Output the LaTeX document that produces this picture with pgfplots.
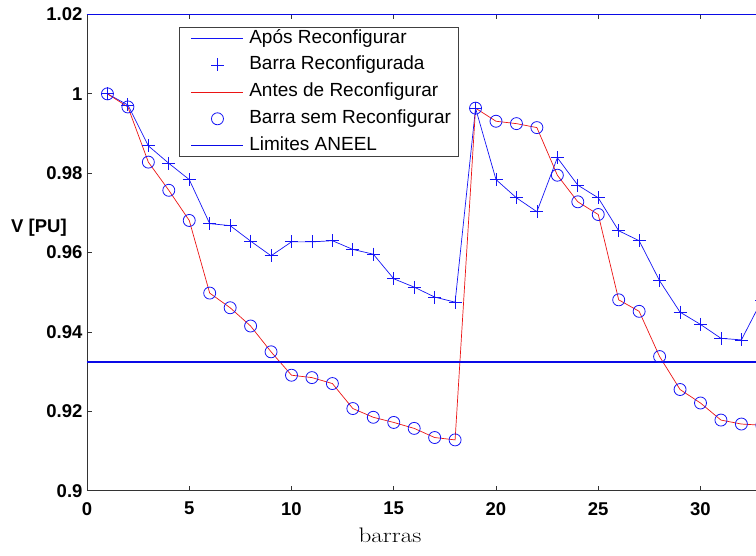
\documentclass[border=0pt]{standalone}
\usepackage{fontspec}
\setsansfont{Liberation Sans}
\usepackage{graphicx}
\usepackage{pgfplots}
\pgfplotsset{compat=1.18}

\definecolor{mblue}{RGB}{20,20,245}
\definecolor{mred}{RGB}{235,20,20}
\definecolor{limblue}{RGB}{10,10,230}

\newcommand{\lblfont}{\fontsize{18.5}{20}\selectfont\sffamily}
\newcommand{\legfont}{\fontsize{19}{21}\selectfont\sffamily}

\pgfplotsset{
  lineleg/.style={legend image code/.code={\path (0pt,0pt); \draw[##1] (7pt,0pt) -- (59pt,0pt);}},
  markleg/.style={legend image code/.code={\path (0pt,0pt) (59pt,0pt); \draw[##1] plot coordinates {(33pt,0pt)};}},
}

\begin{document}
\begin{tikzpicture}
% page area: the axis runs on past the right edge
\useasboundingbox (-87pt,-64.3pt) rectangle (669pt,490.7pt);
\clip (-87pt,-64.3pt) rectangle (669pt,490.7pt);
\begin{axis}[
  scale only axis,
  width=695.3pt, height=476.2pt,
  at={(0pt,0pt)}, anchor=south west,
  xmin=0, xmax=34,
  ymin=0.9, ymax=1.02,
  xtick={0,5,10,15,20,25,30},
  ytick={0.9,0.92,0.94,0.96,0.98,1,1.02},
  yticklabels={0.9,0.92,0.94,0.96,0.98,1,1.02},
  tick align=inside,
  major tick length=5pt,
  axis line style={black!80, line width=0.8pt},
  tick style={black!80, line width=0.8pt},
  /pgf/number format/assume math mode=true,
  ticklabel style={font=\lblfont\bfseries},
  xticklabel style={yshift=-8pt},
  yticklabel style={xshift=-1pt},
  clip=false,
  legend style={
    at={(0.1327,0.9744)}, anchor=north west,
    draw=black!75, line width=0.8pt, fill=white,
    font=\legfont,
    inner xsep=4pt, inner ysep=2pt,
    nodes={inner xsep=3pt, inner ysep=0pt, text height=14pt, text depth=4pt},
    row sep=8.9pt, column sep=2pt,
  },
  legend cell align=left,
]

% lines after reconfiguration
\addplot[mblue, line width=0.7pt, lineleg]
  coordinates {
  (1,1.0000) (2,0.9972) (3,0.9869) (4,0.9825) (5,0.9784) (6,0.9673)
  (7,0.9668) (8,0.9629) (9,0.9592) (10,0.9627) (11,0.9627) (12,0.9630)
  (13,0.9608) (14,0.9596) (15,0.9534) (16,0.9513) (17,0.9488) (18,0.9475)
  (19,0.9964) (20,0.9784) (21,0.9738) (22,0.9703) (23,0.9839) (24,0.9770)
  (25,0.9738) (26,0.9655) (27,0.9630) (28,0.9529) (29,0.9450) (30,0.9419)
  (31,0.9384) (32,0.9380) (33,0.9480)};
\addlegendentry{Após Reconfigurar}

\addplot[mblue, only marks, mark=+, mark size=6.5pt, mark options={line width=0.8pt}, markleg]
  coordinates {
  (1,1.0000) (2,0.9972) (3,0.9869) (4,0.9825) (5,0.9784) (6,0.9673)
  (7,0.9668) (8,0.9629) (9,0.9592) (10,0.9627) (11,0.9627) (12,0.9630)
  (13,0.9608) (14,0.9596) (15,0.9534) (16,0.9513) (17,0.9488) (18,0.9475)
  (19,0.9964) (20,0.9784) (21,0.9738) (22,0.9703) (23,0.9839) (24,0.9770)
  (25,0.9738) (26,0.9655) (27,0.9630) (28,0.9529) (29,0.9450) (30,0.9419)
  (31,0.9384) (32,0.9380) (33,0.9480)};
\addlegendentry{Barra Reconfigurada}

% before reconfiguration
\addplot[mred, line width=0.7pt, lineleg]
  coordinates {
  (1,1.0000) (2,0.9967) (3,0.9828) (4,0.9757) (5,0.9681) (6,0.9498)
  (7,0.9461) (8,0.9415) (9,0.9350) (10,0.9291) (11,0.9285) (12,0.9270)
  (13,0.9207) (14,0.9185) (15,0.9172) (16,0.9157) (17,0.9134) (18,0.9128)
  (19,0.9964) (20,0.9931) (21,0.9925) (22,0.9915) (23,0.9795) (24,0.9728)
  (25,0.9696) (26,0.9481) (27,0.9452) (28,0.9338) (29,0.9255) (30,0.9221)
  (31,0.9178) (32,0.9168) (33,0.9165)};
\addlegendentry{Antes de Reconfigurar}

\addplot[mblue, only marks, mark=o, mark size=6pt, mark options={line width=0.8pt}, markleg]
  coordinates {
  (1,1.0000) (2,0.9967) (3,0.9828) (4,0.9757) (5,0.9681) (6,0.9498)
  (7,0.9461) (8,0.9415) (9,0.9350) (10,0.9291) (11,0.9285) (12,0.9270)
  (13,0.9207) (14,0.9185) (15,0.9172) (16,0.9157) (17,0.9134) (18,0.9128)
  (19,0.9964) (20,0.9931) (21,0.9925) (22,0.9915) (23,0.9795) (24,0.9728)
  (25,0.9696) (26,0.9481) (27,0.9452) (28,0.9338) (29,0.9255) (30,0.9221)
  (31,0.9178) (32,0.9168) (33,0.9165)};
\addlegendentry{Barra sem Reconfigurar}

% voltage limits
\addplot[limblue, line width=1.6pt, lineleg]
  coordinates {(0,0.9325) (34,0.9325)};
\addlegendentry{Limites ANEEL}
\addplot[limblue, line width=1.2pt, forget plot]
  coordinates {(0,1.02) (34,1.02)};

\end{axis}
\node[font=\lblfont\bfseries] at (-48pt,262.7pt) {V [PU]};
\node[anchor=base] at (303pt,-52pt) {\scalebox{1.2}[1]{\fontsize{21}{23}\selectfont barras}};
\end{tikzpicture}
\end{document}
